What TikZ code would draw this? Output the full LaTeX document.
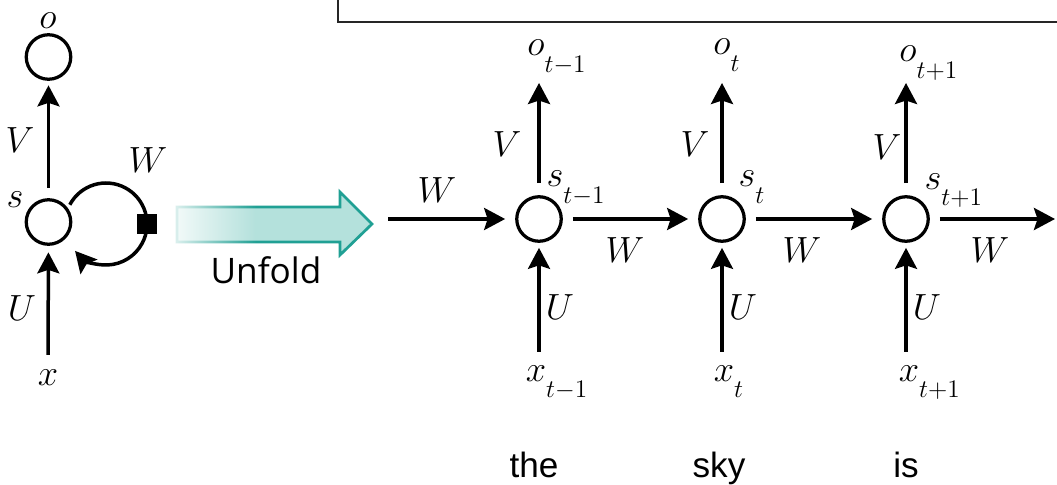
\documentclass[tikz,border=0pt]{standalone}
\usepackage{fontspec}
\usepackage{mathtools}
\usepackage{tikz}
\usetikzlibrary{arrows.meta, fadings}
\newfontfamily\unfoldfont{Open Sans}
\newfontfamily\wordfont{Liberation Sans}
\definecolor{unfoldfill}{RGB}{180,225,220}
\definecolor{unfoldline}{RGB}{32,160,148}
% time index, set low as in the drawing
\newcommand\tsub[1]{\mathrlap{_{\raisebox{-0.7ex}{$\scriptstyle #1$}}}}

\begin{document}
\begin{tikzpicture}[x=0.02cm, y=0.02cm, font=\fontsize{21}{25}\selectfont,
  unit/.style={circle, draw, line width=0.065cm, minimum size=0.89cm, inner sep=0pt},
  lbl/.style={inner sep=0pt},
  arr/.style={-{Stealth[length=0.42cm, width=0.44cm, inset=0.07cm]}, line width=0.07cm},
  word/.style={font=\wordfont\fontsize{20}{24}\selectfont, anchor=base}]
  \useasboundingbox (0,0) rectangle (1057,484);
  % frame at the top, cut off by the page
  \draw[line width=0.04cm, black!85] (338,495) |- (1070,462);

  % folded network
  \node[unit] (o) at (48.5,427) {};
  \node[unit] (s) at (48.5,262) {};
  \node[lbl] (ol) at (48,463) {$o$};
  \node[lbl] (sl) at (15,284) {$s$};
  \node[lbl] (x) at (48,106) {$x$};
  \node[lbl] at (20,344) {$V$};
  \node[lbl] at (22,176) {$U$};
  \node[lbl] at (148,324) {$W$};
  \draw[arr, shorten <=0.21cm, shorten >=0.09cm] (s) -- (o);
  \draw[arr, shorten <=0.3cm, shorten >=0.13cm] (x) -- (s);
  \coordinate (loopc) at (106,260);
  \draw[arr] ([shift={(152:0.82cm)}]loopc) arc[start angle=152, end angle=-139, radius=0.82cm];
  \node[fill=black, minimum size=0.4cm, inner sep=0pt] (wsq) at ([shift={(0:0.82cm)}]loopc) {};

  % unfold arrow, fading out to the left
  \draw[fill=unfoldfill, draw=unfoldline, line width=0.055cm, line join=miter]
    (177,277) -- (340,277) -- (340,292) -- (372,260) -- (340,229) -- (340,242) -- (177,242) -- cycle;
  \fill[white, path fading=east] (160,236) rectangle (256,284);
  \node[anchor=base, font=\unfoldfont\fontsize{20}{24}\selectfont] (unfold) at (266,201) {Unfold};

  % unfolded network
  \node[unit] (s1) at (539,265) {};
  \node[unit] (s2) at (722,265) {};
  \node[unit] (s3) at (906,265) {};
  \node[lbl, anchor=base] (o1) at (536,428) {$o\tsub{t-1}$};
  \node[lbl, anchor=base] (o2) at (722,429) {$o\tsub{t}$};
  \node[lbl, anchor=base] (o3) at (908,422) {$o\tsub{t+1}$};
  \node[lbl, anchor=base] (x1) at (536,103) {$x\tsub{t-1}$};
  \node[lbl, anchor=base] (x2) at (724,103) {$x\tsub{t}$};
  \node[lbl, anchor=base] (x3) at (909,103) {$x\tsub{t+1}$};
  \node[lbl, anchor=base] (sl1) at (555,297) {$s\tsub{t-1}$};
  \node[lbl, anchor=base] (sl2) at (747,297) {$s\tsub{t}$};
  \node[lbl, anchor=base] (sl3) at (933,295) {$s\tsub{t+1}$};
  \node[lbl] at (507,340) {$V$};
  \node[lbl] at (695,340) {$V$};
  \node[lbl] at (887,337) {$V$};
  \node[lbl] at (560,177) {$U$};
  \node[lbl] at (743,177) {$U$};
  \node[lbl] at (927,177) {$U$};
  \node[lbl] at (437,294) {$W$};
  \node[lbl] at (625,234) {$W$};
  \node[lbl] at (802,234) {$W$};
  \node[lbl] at (990,234) {$W$};
  \draw[arr, shorten <=0.24cm, shorten >=0.54cm] (s1) -- (s1 |- o1.base);
  \draw[arr, shorten <=0.24cm, shorten >=0.56cm] (s2) -- (s2 |- o2.base);
  \draw[arr, shorten <=0.24cm, shorten >=0.42cm] (s3) -- (s3 |- o3.base);
  \draw[arr, shorten <=0.26cm, shorten >=0.1cm] (s1 |- x1.north) -- (s1);
  \draw[arr, shorten <=0.26cm, shorten >=0.1cm] (s2 |- x2.north) -- (s2);
  \draw[arr, shorten <=0.26cm, shorten >=0.1cm] (s3 |- x3.north) -- (s3);
  \coordinate (win) at (388,265);
  \coordinate (wout) at (1055,265);
  \draw[arr, shorten >=0.2cm] (win) -- (s1);
  \draw[arr, shorten <=0.2cm, shorten >=0.2cm] (s1) -- (s2);
  \draw[arr, shorten <=0.2cm, shorten >=0.2cm] (s2) -- (s3);
  \draw[arr, shorten <=0.2cm] (s3) -- (wout);

  % words
  \node[word] (w1) at (534,7) {the};
  \node[word] (w2) at (719,7) {sky};
  \node[word] (w3) at (906,7) {is};
\end{tikzpicture}
\end{document}
